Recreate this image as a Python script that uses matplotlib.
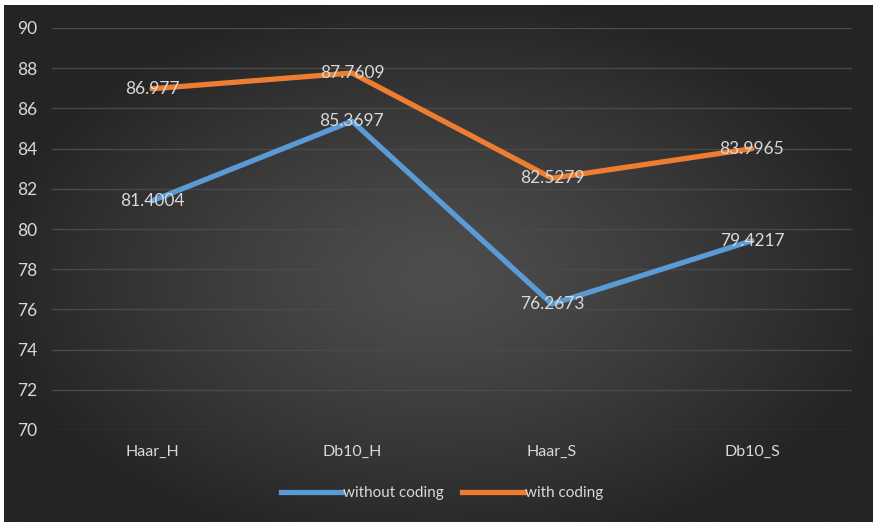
import numpy as np
import matplotlib
matplotlib.use("Agg")
import matplotlib.pyplot as plt
from matplotlib.lines import Line2D

categories = ["Haar_H", "Db10_H", "Haar_S", "Db10_S"]
without_coding = [81.4004, 85.3697, 76.2673, 79.4217]
with_coding = [86.977, 87.7609, 82.5279, 83.9965]
y_ticks = [70, 72, 74, 76, 78, 80, 82, 84, 86, 88, 90]

BLUE = "#5b9bd5"
ORANGE = "#ed7d31"
TEXT = "#d9d9d9"
GRID = "#4a4a4a"

plt.rcParams["font.family"] = ["Lato", "DejaVu Sans"]

W, H = 873, 522
fig = plt.figure(figsize=(W / 100, H / 100), dpi=100, facecolor="white")

# dark radial-gradient backdrop for the chart frame
bg = fig.add_axes([4 / W, 0, 1 - 4 / W, 1 - 5 / H], zorder=0)
bg.set_axis_off()
gx, gy = np.meshgrid(np.linspace(-1, 1, 400), np.linspace(-1, 1, 240))
r = np.sqrt((gx / 1.05) ** 2 + ((gy - 0.05) / 1.1) ** 2)
r = np.clip(r, 0, 1.0)
center, edge = 0x4e, 0x24
vals = (center + (edge - center) * r ** 1.2) / 255.0
bg.imshow(np.dstack([vals, vals, vals]), aspect="auto", extent=[0, 1, 0, 1],
          interpolation="bilinear")

ax = fig.add_axes([52 / W, 1 - 430 / H, 800 / W, 402 / H], zorder=1)
ax.patch.set_alpha(0)
x = np.arange(len(categories))
ax.set_xlim(-0.5, len(categories) - 0.5)
ax.set_ylim(70, 90)

ax.plot(x, without_coding, color=BLUE, lw=3.8, solid_capstyle="round",
        solid_joinstyle="round", zorder=3)
ax.plot(x, with_coding, color=ORANGE, lw=3.8, solid_capstyle="round",
        solid_joinstyle="round", zorder=3)

for xi, v in zip(x, without_coding):
    ax.text(xi, v, f"{v:g}", ha="center", va="center", color=TEXT,
            fontsize=12.5, zorder=4)
for xi, v in zip(x, with_coding):
    ax.text(xi, v, f"{v:g}", ha="center", va="center", color=TEXT,
            fontsize=12.5, zorder=4)

ax.set_yticks(y_ticks)
ax.set_yticklabels([str(t) for t in y_ticks])
ax.set_xticks(x)
ax.set_xticklabels(categories)
ax.tick_params(axis="y", length=0, colors=TEXT, labelsize=12.5, pad=25)
ax.tick_params(axis="x", length=0, colors=TEXT, labelsize=11.5, pad=11)
for lbl in ax.get_yticklabels():
    lbl.set_horizontalalignment("left")
ax.grid(axis="y", color=GRID, lw=1.0)
ax.set_axisbelow(True)
for s in ax.spines.values():
    s.set_visible(False)

handles = [Line2D([], [], color=BLUE, lw=3.8),
           Line2D([], [], color=ORANGE, lw=3.8)]
leg = fig.legend(handles, ["without coding", "with coding"], loc="center",
                 bbox_to_anchor=(442 / W, 1 - 493 / H), ncol=2, frameon=False,
                 fontsize=11, handlelength=4.0, handletextpad=0.1,
                 columnspacing=1.2, labelcolor=TEXT)

fig.savefig("out.png", dpi=100, facecolor="white")
